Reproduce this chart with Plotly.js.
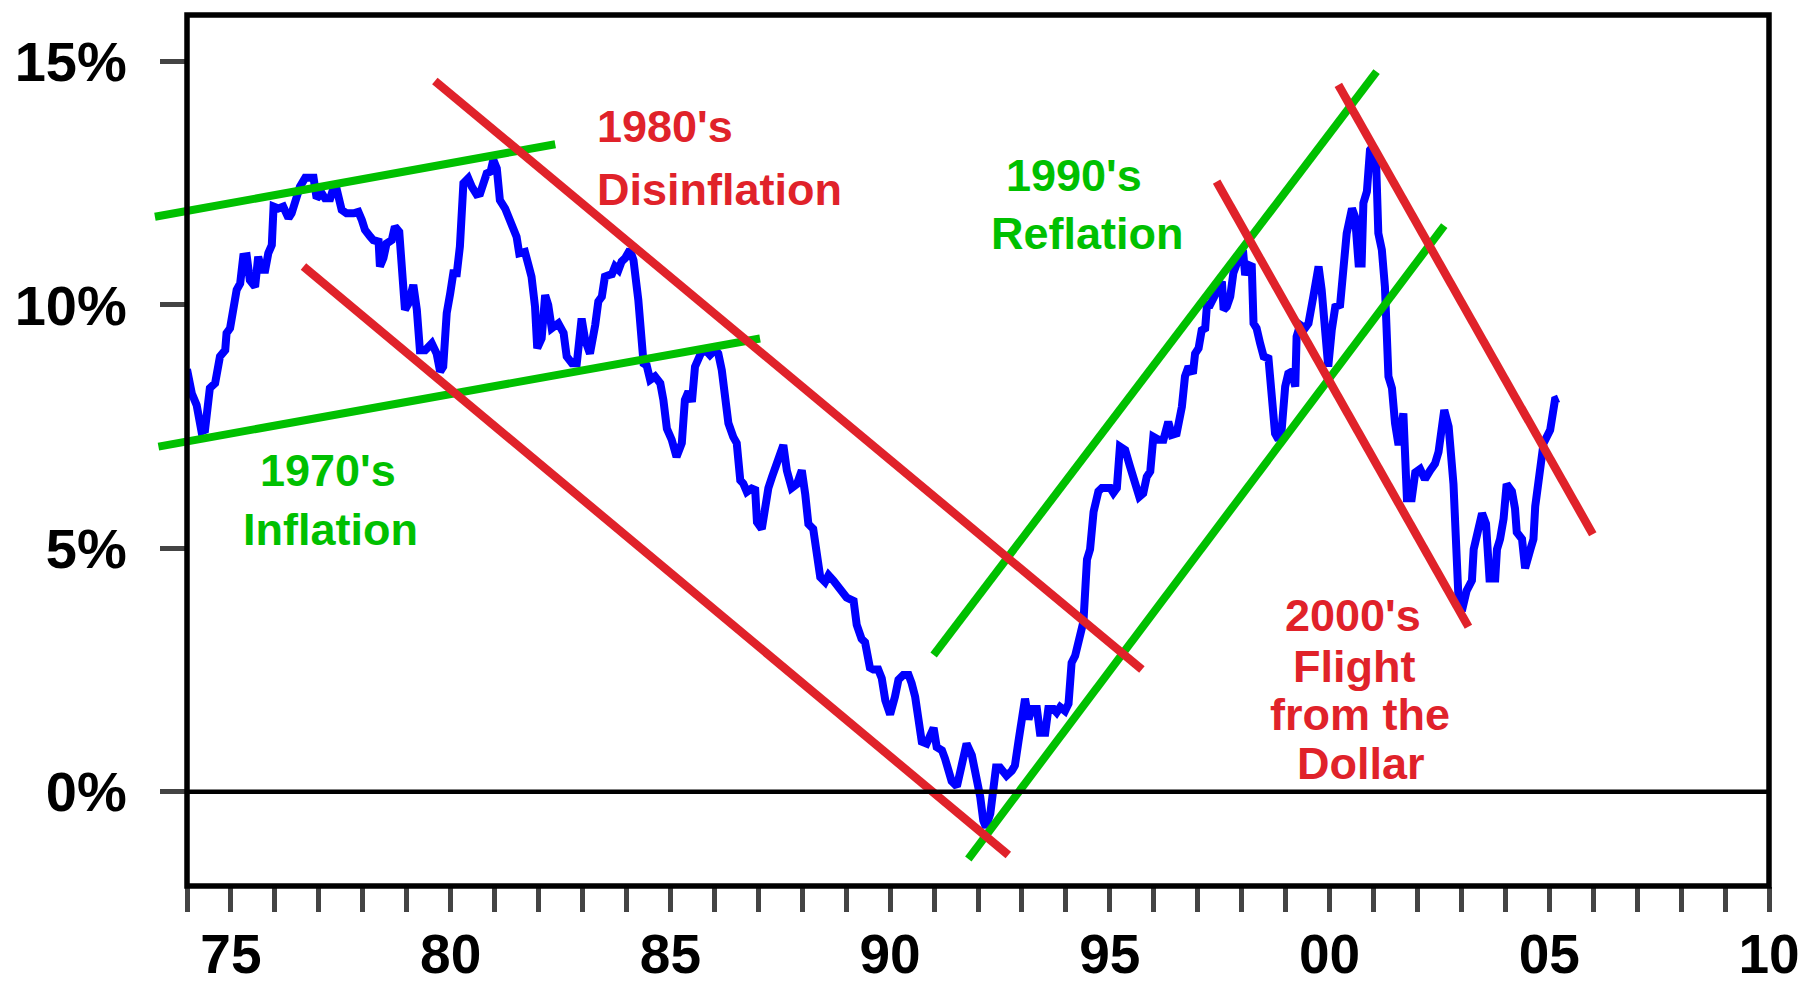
<!DOCTYPE html>
<html>
<head>
<meta charset="utf-8">
<script src="https://cdn.plot.ly/plotly-3.0.1.min.js"></script>
<style>
  html, body { margin: 0; padding: 0; background: #ffffff; }
  #chart { width: 1804px; height: 988px; }
</style>
</head>
<body>
<div id="chart"></div>
<script>
// ---------------- DATA ----------------
const rateYears = [
  1974.00,1974.11,1974.22,1974.33,1974.41,1974.52,1974.64,1974.71,1974.75,1974.87,1974.90,1974.98,
  1975.09,1975.13,1975.21,1975.28,1975.36,1975.43,1975.55,1975.62,1975.70,1975.78,1975.85,1975.93,1975.97,
  1976.08,1976.19,1976.31,1976.38,1976.50,1976.57,1976.69,1976.88,1976.95,
  1977.07,1977.14,1977.26,1977.33,1977.41,1977.52,1977.63,1977.79,1977.90,1977.98,
  1978.05,1978.17,1978.24,1978.36,1978.39,1978.47,1978.54,1978.66,1978.73,1978.83,1978.89,1978.96,
  1979.04,1979.15,1979.23,1979.30,1979.42,1979.57,1979.68,1979.76,1979.83,1979.91,1979.99,
  1980.06,1980.14,1980.21,1980.29,1980.40,1980.48,1980.59,1980.67,1980.74,1980.82,1980.91,1980.97,
  1981.05,1981.12,1981.24,1981.35,1981.43,1981.50,1981.56,1981.69,1981.77,1981.84,1981.92,1981.97,
  1982.07,1982.15,1982.22,1982.30,1982.45,1982.57,1982.64,1982.76,1982.87,1982.98,
  1983.06,1983.17,1983.29,1983.36,1983.44,1983.51,1983.59,1983.67,1983.74,1983.82,1983.89,1983.97,
  1984.08,1984.16,1984.27,1984.35,1984.39,1984.46,1984.54,1984.65,1984.77,1984.84,1984.92,
  1985.03,1985.14,1985.26,1985.33,1985.41,1985.49,1985.56,1985.64,1985.71,1985.83,1985.90,
  1986.02,1986.09,1986.17,1986.24,1986.32,1986.43,1986.51,1986.59,1986.66,1986.74,1986.85,1986.93,1986.97,
  1987.08,1987.15,1987.23,1987.31,1987.42,1987.57,1987.65,1987.76,1987.88,1987.99,
  1988.07,1988.14,1988.25,1988.33,1988.41,1988.52,1988.60,1988.71,1988.86,
  1989.01,1989.17,1989.24,1989.35,1989.43,1989.54,1989.62,1989.73,1989.81,1989.89,
  1990.00,1990.11,1990.19,1990.30,1990.42,1990.49,1990.57,1990.64,1990.72,1990.83,1990.91,1990.99,
  1991.06,1991.18,1991.25,1991.33,1991.40,1991.52,1991.63,1991.74,1991.86,1991.97,
  1992.05,1992.12,1992.18,1992.28,1992.35,1992.41,1992.50,1992.65,1992.77,1992.84,1992.92,
  1993.00,1993.07,1993.15,1993.22,1993.34,1993.41,1993.53,1993.60,1993.72,1993.79,1993.87,1993.98,
  1994.06,1994.13,1994.21,1994.32,1994.40,1994.48,1994.55,1994.63,1994.74,1994.82,
  1995.01,1995.08,1995.16,1995.23,1995.35,1995.46,1995.57,1995.67,1995.76,1995.84,1995.92,1995.99,
  1996.11,1996.22,1996.33,1996.41,1996.52,1996.64,1996.71,1996.79,1996.89,1996.94,
  1997.02,1997.09,1997.17,1997.21,1997.28,1997.36,1997.47,1997.55,1997.59,1997.66,1997.74,1997.81,1997.89,1997.96,
  1998.04,1998.08,1998.15,1998.23,1998.27,1998.34,1998.42,1998.50,1998.61,1998.69,1998.76,1998.84,1998.91,1998.99,
  1999.06,1999.14,1999.22,1999.25,1999.33,1999.44,1999.52,1999.63,1999.75,1999.82,1999.90,1999.97,
  2000.05,2000.13,2000.24,2000.32,2000.39,2000.51,2000.58,2000.66,2000.73,2000.77,2000.85,2000.92,2000.98,
  2001.06,2001.11,2001.19,2001.26,2001.34,2001.42,2001.49,2001.57,2001.68,2001.76,2001.87,2001.95,
  2002.06,2002.17,2002.29,2002.40,2002.48,2002.61,2002.71,2002.78,2002.82,2002.93,
  2003.01,2003.12,2003.24,2003.28,2003.39,2003.47,2003.56,2003.62,2003.64,2003.77,2003.81,2003.88,2003.96,
  2004.03,2004.15,2004.22,2004.26,2004.38,2004.45,2004.57,2004.64,2004.68,2004.75,2004.83,2004.87,
  2005.02,2005.10,2005.13,2005.21
];
const rateValues = [
  8.68,8.18,7.94,7.40,7.43,8.29,8.39,8.80,8.94,9.07,9.42,9.52,
  10.10,10.31,10.44,10.99,11.00,10.51,10.37,10.99,10.72,10.72,11.06,11.23,12.02,
  11.98,12.02,11.78,11.88,12.29,12.43,12.61,12.61,12.19,
  12.29,12.19,12.19,12.39,12.36,11.95,11.88,11.88,11.91,11.74,
  11.54,11.40,11.33,11.30,10.79,10.96,11.26,11.33,11.61,11.50,10.44,9.90,
  10.03,10.41,9.90,9.07,9.07,9.21,9.00,8.63,8.73,9.83,10.24,
  10.65,10.65,11.20,12.50,12.60,12.43,12.27,12.29,12.53,12.70,12.74,12.98,
  12.80,12.15,11.98,11.68,11.47,11.40,11.06,11.09,10.82,10.58,9.96,9.11,
  9.31,10.20,10.00,9.52,9.62,9.42,8.94,8.80,8.80,9.72,
  9.28,9.00,9.59,10.07,10.17,10.58,10.61,10.63,10.79,10.72,10.89,10.96,
  11.13,10.92,10.10,9.21,8.80,8.76,8.46,8.53,8.39,8.05,7.46,
  7.23,6.88,7.16,8.05,8.22,8.01,8.73,8.94,9.04,9.04,8.97,
  9.08,9.00,8.66,7.98,7.57,7.29,7.16,6.40,6.33,6.16,6.23,6.20,5.54,
  5.40,5.82,6.24,6.46,6.74,7.12,6.60,6.24,6.32,6.60,
  6.10,5.50,5.40,4.91,4.41,4.31,4.45,4.34,4.17,
  3.99,3.92,3.43,3.14,3.07,2.55,2.51,2.51,2.33,1.88,
  1.59,1.95,2.30,2.40,2.40,2.23,1.95,1.52,1.03,0.99,1.17,1.31,
  0.92,0.85,0.68,0.33,0.22,0.11,0.54,0.99,0.75,0.33,
  -0.10,-0.59,-0.73,-0.45,-0.03,0.50,0.50,0.33,0.43,0.54,1.03,
  1.45,1.91,1.49,1.70,1.70,1.21,1.21,1.70,1.70,1.63,1.74,1.66,
  1.81,2.65,2.79,3.14,3.50,4.77,4.98,5.75,6.17,6.24,
  6.24,6.14,6.24,7.09,7.02,6.68,6.34,6.06,6.13,6.47,6.58,7.29,
  7.23,7.23,7.60,7.33,7.36,7.91,8.53,8.73,8.59,9.00,
  9.11,9.48,9.52,10.00,10.00,10.13,10.31,10.48,9.90,9.96,10.17,10.65,10.85,10.99,
  11.02,10.61,10.82,10.79,9.62,9.52,9.21,8.94,8.90,8.18,7.36,7.23,7.43,8.32,
  8.59,8.63,8.32,9.35,9.59,9.52,9.62,10.17,10.79,10.31,9.42,8.73,
  9.48,9.96,10.00,10.79,11.47,11.98,11.81,10.85,10.85,12.09,12.33,13.18,13.25,
  12.91,11.47,11.13,10.37,8.53,8.29,7.57,7.12,7.77,6.03,6.03,6.56,
  6.63,6.42,6.60,6.74,6.98,7.84,7.50,6.68,6.32,4.06,
  3.71,4.13,4.34,4.98,5.51,5.72,5.51,4.91,4.38,4.38,4.98,5.19,5.61,
  6.32,6.17,5.82,5.33,5.19,4.59,4.98,5.19,5.86,6.39,6.95,7.16,
  7.43,7.84,8.05,8.08
];

// Trend channels: [start, end] pairs (year, percent)
const greenTrendX = [[1973.27, 1982.38], [1973.35, 1987.04], [1990.99, 2001.07], [1991.78, 2002.61]];
const greenTrendY = [[11.81, 13.30], [7.09, 9.31], [2.81, 14.79], [-1.38, 11.63]];
const redTrendX   = [[1979.64, 1995.73], [1976.65, 1992.69], [1997.43, 2003.16], [2000.20, 2005.99]];
const redTrendY   = [[14.60, 2.51], [10.79, -1.30], [12.53, 3.39], [14.52, 5.29]];

// Axis ticks
const xTickYears  = [1974,1975,1976,1977,1978,1979,1980,1981,1982,1983,1984,1985,1986,1987,1988,1989,
                     1990,1991,1992,1993,1994,1995,1996,1997,1998,1999,2000,2001,2002,2003,2004,2005,
                     2006,2007,2008,2009,2010];
const xLabelYears = [1975, 1980, 1985, 1990, 1995, 2000, 2005, 2010];
const xLabelTexts = ['75', '80', '85', '90', '95', '00', '05', '10'];
const yTickVals   = [0, 5, 10, 15];
const yTickTexts  = ['0%', '5%', '10%', '15%'];

// Period labels
const periodLabels = [
  {lines: ["1970's", 'Inflation'], color: 'green'},
  {lines: ["1980's", 'Disinflation'], color: 'red'},
  {lines: ["1990's", 'Reflation'], color: 'green'},
  {lines: ["2000's", 'Flight', 'from the', 'Dollar'], color: 'red'}
];

// ---------------- STYLE / LAYOUT ----------------
const BLUE = '#0000FF';
const RED = '#E0222A';
const GREEN = '#00C000';
const FONT = 'Liberation Sans, Arial, Helvetica, sans-serif';

const xRange = [1974, 2010];
const yRange = [-1.935, 15.954];
const mainDomainX0 = 47 / 1629;   // main box starts a little right of the overlay area
// overlay subplot (for trend lines that run past the left frame) uses the same scale
const span = xRange[1] - xRange[0];
const overlayXRange = [xRange[1] - span / (1 - mainDomainX0), xRange[1]];

const traces = [];
traces.push({
  x: rateYears, y: rateValues, type: 'scatter', mode: 'lines',
  line: {color: BLUE, width: 8, shape: 'linear'},
  xaxis: 'x', yaxis: 'y', hoverinfo: 'skip', showlegend: false
});
for (let i = 0; i < greenTrendX.length; i++) {
  traces.push({
    x: greenTrendX[i], y: greenTrendY[i], type: 'scatter', mode: 'lines',
    line: {color: GREEN, width: 8}, xaxis: 'x2', yaxis: 'y2',
    hoverinfo: 'skip', showlegend: false
  });
}
for (let i = 0; i < redTrendX.length; i++) {
  traces.push({
    x: redTrendX[i], y: redTrendY[i], type: 'scatter', mode: 'lines',
    line: {color: RED, width: 8.5}, xaxis: 'x2', yaxis: 'y2',
    hoverinfo: 'skip', showlegend: false
  });
}

const xTickText = xTickYears.map(function (yr) {
  const k = xLabelYears.indexOf(yr);
  return k >= 0 ? xLabelTexts[k] : '';
});

// label placements (data coords)
const labelPlacement = [
  [{x: 1975.62, y: 6.60, anchor: 'left'}, {x: 1975.24, y: 5.38, anchor: 'left'}],
  [{x: 1983.285, y: 13.66, anchor: 'left'}, {x: 1983.285, y: 12.36, anchor: 'left'}],
  [{x: 1992.60, y: 12.65, anchor: 'left'}, {x: 1992.24, y: 11.47, anchor: 'left'}],
  [{x: 2000.53, y: 3.63, anchor: 'center'}, {x: 2000.55, y: 2.57, anchor: 'center'},
   {x: 2000.70, y: 1.59, anchor: 'center'}, {x: 2000.71, y: 0.58, anchor: 'center'}]
];
const annotations = [];
periodLabels.forEach(function (lab, i) {
  lab.lines.forEach(function (txt, j) {
    const p = labelPlacement[i][j];
    annotations.push({
      text: txt, x: p.x, y: p.y, xref: 'x', yref: 'y',
      xanchor: p.anchor, yanchor: 'middle', showarrow: false,
      font: {family: FONT, size: 45, color: lab.color === 'red' ? RED : GREEN, weight: 'bold'}
    });
  });
});

const yTickFont = {family: FONT, size: 56, color: '#000000', weight: 'bold'};
const xTickFont = {family: FONT, size: 55, color: '#000000', weight: 'bold'};

const layout = {
  width: 1804, height: 988,
  margin: {l: 140, r: 35, t: 15, b: 102, pad: 0},
  paper_bgcolor: '#ffffff',
  plot_bgcolor: 'rgba(0,0,0,0)',
  showlegend: false,
  xaxis: {
    domain: [mainDomainX0, 1], range: xRange, anchor: 'y',
    tickmode: 'array', tickvals: xTickYears, ticktext: xTickText,
    ticks: 'outside', ticklen: 25, tickwidth: 5, tickcolor: '#444444',
    tickfont: xTickFont, showgrid: false, zeroline: false, showline: false,
    ticklabelstandoff: -5, fixedrange: true
  },
  yaxis: {
    domain: [0, 1], range: yRange, anchor: 'x',
    tickmode: 'array', tickvals: yTickVals, ticktext: yTickTexts,
    ticks: 'outside', ticklen: 26, tickwidth: 5, tickcolor: '#444444',
    tickfont: yTickFont, showgrid: false, zeroline: false, showline: false,
    ticklabelstandoff: 22, fixedrange: true
  },
  xaxis2: {domain: [0, 1], range: overlayXRange, anchor: 'y2', visible: false, fixedrange: true},
  yaxis2: {domain: [0, 1], range: yRange, anchor: 'x2', visible: false, fixedrange: true},
  shapes: [
    {type: 'line', xref: 'x domain', yref: 'y', x0: 0, x1: 1, y0: 0, y1: 0,
     line: {color: '#000000', width: 4.5}, layer: 'above'},
    {type: 'rect', xref: 'x domain', yref: 'y domain', x0: 0, x1: 1, y0: 0, y1: 1,
     line: {color: '#000000', width: 5.5}, fillcolor: 'rgba(0,0,0,0)', layer: 'above'}
  ],
  annotations: annotations
};

Plotly.newPlot('chart', traces, layout, {displayModeBar: false, staticPlot: true});
</script>
</body>
</html>
